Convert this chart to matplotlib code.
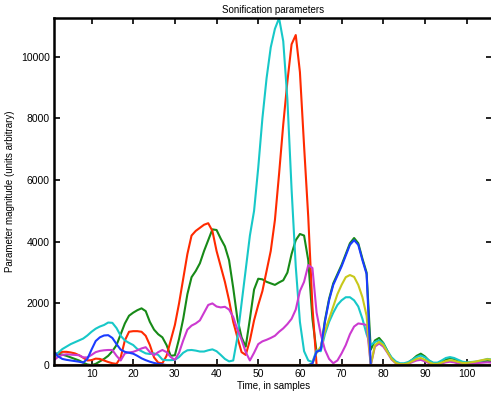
import numpy as np
import matplotlib
matplotlib.use("Agg")
import matplotlib.pyplot as plt

plt.rcParams['font.family'] = ['Liberation Sans', 'DejaVu Sans']

# sample index 1..106
samples = np.arange(1, 107)

blue = [430, 280, 200, 170, 150, 130, 110, 80, 200, 500,
        780, 900, 960, 970, 880, 680, 500, 430, 400, 370,
        300, 220, 160, 110, 70, 40, 20, 0, 0, 0,
        0, 0, 0, 0, 0, 0, 0, 0, 0, 0,
        0, 0, 0, 0, 0, 0, 0, 0, 0, 0,
        0, 0, 0, 0, 0, 0, 0, 0, 0, 0,
        0, 0, 50, 430, 500, 1400, 2100, 2600, 2900, 3200,
        3550, 3900, 4050, 3900, 3400, 2950, 0, 0, 0, 0,
        0, 0, 0, 0, 0, 0, 0, 0, 0, 0,
        0, 0, 0, 0, 0, 0, 0, 0, 0, 0,
        0, 0, 0, 0, 0, 0]

green = [380, 370, 340, 300, 250, 200, 150, 80, 20, 0,
         40, 120, 200, 300, 450, 650, 1000, 1350, 1600, 1700,
         1780, 1840, 1750, 1400, 1150, 1000, 900, 650, 300, 320,
         850, 1500, 2300, 2850, 3050, 3300, 3700, 4050, 4400, 4380,
         4100, 3850, 3400, 2500, 1500, 900, 600, 1500, 2450, 2800,
         2780, 2700, 2650, 2600, 2680, 2750, 3000, 3600, 4050, 4250,
         4200, 3400, 1500, 420, 500, 1450, 2150, 2650, 2950, 3250,
         3600, 3950, 4120, 3950, 3450, 3000, 500, 800, 880, 720,
         460, 210, 80, 30, 30, 80, 180, 300, 370, 280,
         140, 60, 40, 80, 170, 230, 200, 130, 70, 60,
         80, 90, 110, 120, 140, 120]

red = [250, 380, 430, 430, 410, 380, 320, 240, 150, 160,
       210, 200, 150, 100, 60, 40, 250, 800, 1080, 1100,
       1100, 1080, 950, 650, 250, 80, 60, 300, 800, 1300,
       2000, 2800, 3600, 4200, 4350, 4450, 4550, 4600, 4350, 3700,
       3200, 2700, 2100, 1400, 900, 420, 330, 800, 1450, 1950,
       2400, 3050, 3700, 4700, 6200, 7800, 9200, 10400, 10700, 9500,
       7100, 4800, 1900, 0, 0, 0, 0, 0, 0, 0,
       0, 0, 0, 0, 0, 0, 0, 0, 0, 0,
       0, 0, 0, 0, 0, 0, 0, 0, 0, 0,
       0, 0, 0, 0, 0, 0, 0, 0, 0, 0,
       0, 0, 0, 0, 0, 0]

cyan = [270, 400, 520, 600, 680, 740, 800, 860, 960, 1080,
        1180, 1250, 1300, 1380, 1370, 1200, 950, 800, 720, 650,
        520, 450, 380, 360, 380, 330, 180, 160, 160, 170,
        260, 400, 480, 490, 470, 440, 440, 480, 510, 450,
        330, 200, 120, 150, 900, 2000, 3100, 4200, 5000, 6400,
        8000, 9300, 10300, 10900, 11250, 10500, 8600, 5700, 3200, 1400,
        450, 150, 100, 480, 450, 1000, 1400, 1700, 1950, 2100,
        2200, 2200, 2100, 1900, 1500, 1000, 650, 750, 800, 700,
        450, 250, 120, 60, 60, 100, 180, 260, 310, 250,
        150, 80, 80, 150, 230, 260, 230, 170, 110, 90,
        100, 110, 130, 160, 200, 180]

magenta = [160, 270, 330, 350, 340, 330, 320, 250, 250, 330,
           420, 460, 480, 490, 490, 300, 150, 380, 410, 430,
           480, 540, 580, 420, 320, 420, 490, 420, 260, 170,
           400, 800, 1150, 1280, 1350, 1450, 1700, 1950, 2000, 1900,
           1870, 1890, 1800, 1560, 1150, 820, 420, 150, 400, 680,
           770, 820, 880, 950, 1080, 1190, 1330, 1500, 1800, 2400,
           2700, 3240, 3150, 1700, 1000, 500, 200, 60, 150, 380,
           650, 1000, 1250, 1350, 1330, 1300, 0, 600, 700, 600,
           400, 180, 60, 20, 20, 40, 100, 150, 170, 120,
           60, 20, 20, 50, 90, 110, 90, 50, 30, 30,
           50, 60, 70, 80, 90, 80]

yellow = [0, 0, 0, 0, 0, 0, 0, 0, 0, 0,
          0, 0, 0, 0, 0, 0, 0, 0, 0, 0,
          0, 0, 0, 0, 0, 0, 0, 0, 0, 0,
          0, 0, 0, 0, 0, 0, 0, 0, 0, 0,
          0, 0, 0, 0, 0, 0, 0, 0, 0, 0,
          0, 0, 0, 0, 0, 0, 0, 0, 0, 0,
          0, 0, 50, 400, 600, 1100, 1500, 1900, 2300, 2600,
          2850, 2920, 2860, 2600, 2200, 1600, 0, 650, 750, 650,
          420, 200, 70, 30, 30, 60, 130, 200, 230, 170,
          90, 40, 40, 80, 130, 160, 140, 100, 70, 70,
          90, 110, 140, 170, 190, 170]

brown = [0] * 106

series = [
    (green, '#178a17'),
    (red, '#ff2a00'),
    (cyan, '#17c8c8'),
    (magenta, '#cc3ad0'),
    (yellow, '#c8c81a'),
    (blue, '#1a3cff'),
    (brown, '#9b5a2e'),
]

fig = plt.figure(figsize=(4.91, 3.93), dpi=100)
ax = fig.add_axes([0.110, 0.071, 0.893, 0.883])

for vals, col in series:
    ax.plot(samples, vals, color=col, lw=1.5)

ax.set_xlim(1, 106.2)
ax.set_ylim(0, 11250)
ax.set_xticks(range(10, 101, 10))
ax.set_yticks(range(0, 10001, 2000))
ax.tick_params(direction='in', top=True, right=True, length=4, width=1.2,
               labelsize=7.5, pad=3)
for s in ax.spines.values():
    s.set_linewidth(1.8)

ax.set_title("Sonification parameters", fontsize=7, pad=4)
ax.set_xlabel("Time, in samples", fontsize=7, labelpad=1)
ax.set_ylabel("Parameter magnitude (units arbitrary)", fontsize=7, labelpad=4)

fig.savefig("out.png", dpi=100)
